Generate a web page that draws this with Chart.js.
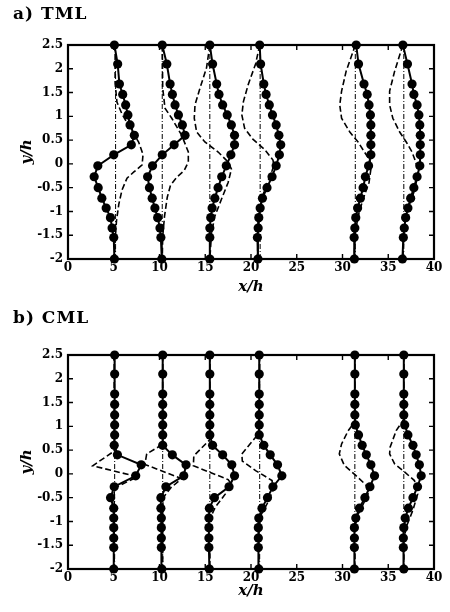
<!DOCTYPE html>
<html>
<head>
<meta charset="utf-8">
<script src="https://cdn.jsdelivr.net/npm/chart.js@4.4.1/dist/chart.umd.min.js"></script>
<style>
    html, body { margin: 0; padding: 0; background: #fff; }
    body { width: 450px; height: 612px; position: relative; overflow: hidden; }
    canvas { position: absolute; left: 0; }
    .panel-title {
        position: absolute; left: 13px; z-index: 2;
        font: bold 17px "DejaVu Serif", serif; letter-spacing: 1px; color: #000;
    }
</style>
</head>
<body>
<div class="panel-title" style="top:3px">a) TML</div>
<canvas id="chart-tml" width="450" height="300" style="top:0"></canvas>
<div class="panel-title" style="top:307px">b) CML</div>
<canvas id="chart-cml" width="450" height="302" style="top:310px"></canvas>
<script>
// axis ticks
const X_TICKS = [0, 5, 10, 15, 20, 25, 30, 35, 40];
const Y_TICKS = [-2, -1.5, -1, -0.5, 0, 0.5, 1, 1.5, 2, 2.5];

// y/h levels of the measured points (shared by every profile)
const Y_PTS = [2.5, 2.1, 1.68, 1.46, 1.24, 1.03, 0.82, 0.6, 0.4, 0.19, -0.04, -0.27, -0.5, -0.72, -0.93, -1.13, -1.35, -1.55, -2];

// a) TML : station x/h, measured x/h at Y_PTS, model curves as [x/h, y/h]
const TML_STATIONS = [5.2, 10.3, 15.5, 21.0, 31.4, 36.7];
const TML_MEAS_1 = [5.07, 5.43, 5.62, 5.98, 6.3, 6.55, 6.78, 7.25, 6.92, 5.0, 3.26, 2.86, 3.3, 3.7, 4.17, 4.64, 4.82, 5.0, 5.07];
const TML_MEAS_2 = [10.3, 10.8, 11.16, 11.41, 11.7, 12.07, 12.5, 12.79, 11.6, 10.3, 9.24, 8.7, 8.9, 9.2, 9.5, 9.8, 10.05, 10.15, 10.25];
const TML_MEAS_3 = [15.5, 15.8, 16.25, 16.5, 16.9, 17.4, 17.85, 18.2, 18.2, 17.8, 17.3, 16.8, 16.4, 16.05, 15.75, 15.6, 15.5, 15.5, 15.5];
const TML_MEAS_4 = [20.95, 21.05, 21.4, 21.65, 22.0, 22.35, 22.75, 23.05, 23.25, 23.1, 22.75, 22.3, 21.75, 21.25, 21.0, 20.85, 20.78, 20.7, 20.76];
const TML_MEAS_5 = [31.5, 31.75, 32.35, 32.7, 32.9, 33.05, 33.1, 33.1, 33.1, 33.1, 32.85, 32.5, 32.25, 31.95, 31.65, 31.45, 31.35, 31.27, 31.3];
const TML_MEAS_6 = [36.6, 37.1, 37.6, 37.8, 38.15, 38.35, 38.45, 38.5, 38.5, 38.5, 38.45, 38.15, 37.8, 37.45, 37.15, 36.9, 36.75, 36.65, 36.55];

const TML_MODEL_1 = [[5.15, 2.5], [5.15, 1.7], [5.35, 1.3], [5.9, 1.05], [6.7, 0.78], [7.72, 0.46], [8.2, 0.2], [8.1, -0.02], [7.2, -0.17], [6.45, -0.3], [5.9, -0.55], [5.55, -0.85], [5.3, -1.2], [5.15, -1.6], [5.1, -2]];
const TML_MODEL_2 = [[10.3, 2.5], [10.35, 1.6], [10.6, 1.17], [11.34, 0.96], [12.43, 0.6], [13.15, 0.25], [13.15, 0.04], [12.7, -0.14], [11.9, -0.28], [11.2, -0.45], [10.85, -0.7], [10.55, -1.1], [10.35, -1.53], [10.3, -2]];
const TML_MODEL_3 = [[15.5, 2.5], [15.14, 2.02], [14.42, 1.59], [13.88, 1.24], [13.8, 0.96], [14.06, 0.67], [14.96, 0.46], [16.41, 0.25], [17.5, 0.04], [17.86, -0.11], [17.5, -0.39], [16.78, -0.74], [16.05, -1.1], [15.69, -1.45], [15.5, -2]];
const TML_MODEL_4 = [[20.95, 2.5], [20.5, 2.1], [19.7, 1.67], [19.17, 1.31], [19.0, 1.03], [19.3, 0.75], [20.2, 0.52], [21.5, 0.3], [22.4, 0.08], [22.5, -0.02], [22.25, -0.18], [21.5, -0.53], [21.0, -0.89], [20.8, -1.38], [20.7, -2]];
const TML_MODEL_5 = [[31.4, 2.5], [30.4, 1.95], [29.9, 1.53], [29.7, 1.24], [29.9, 0.96], [30.8, 0.67], [31.7, 0.46], [32.4, 0.25], [33.0, 0.07], [33.1, -0.11], [32.9, -0.39], [32.25, -0.74], [31.7, -1.1], [31.35, -1.52], [31.3, -2]];
const TML_MODEL_6 = [[36.6, 2.5], [35.7, 1.95], [35.15, 1.53], [35.15, 1.24], [35.5, 0.96], [36.25, 0.67], [37.0, 0.45], [37.6, 0.25], [38.0, 0.04], [38.3, -0.18], [37.9, -0.53], [37.2, -0.96], [36.7, -1.45], [36.6, -2]];

// b) CML
const CML_STATIONS = [5.1, 10.35, 15.5, 20.95, 31.35, 36.7];
const CML_MEAS_1 = [5.1, 5.1, 5.1, 5.1, 5.1, 5.1, 5.1, 5.05, 5.4, 8.0, 7.4, 5.05, 4.65, 5.0, 5.0, 5.0, 5.0, 5.0, 5.0];
const CML_MEAS_2 = [10.35, 10.35, 10.35, 10.35, 10.35, 10.35, 10.35, 10.35, 11.4, 12.9, 12.65, 10.7, 10.15, 10.15, 10.2, 10.2, 10.2, 10.2, 10.25];
const CML_MEAS_3 = [15.5, 15.5, 15.5, 15.5, 15.5, 15.5, 15.5, 15.8, 16.9, 17.9, 18.2, 17.6, 16.0, 15.45, 15.4, 15.4, 15.4, 15.4, 15.45];
const CML_MEAS_4 = [20.9, 20.9, 20.9, 20.9, 20.9, 20.9, 20.9, 21.4, 22.1, 22.9, 23.37, 22.4, 21.8, 21.2, 20.85, 20.8, 20.8, 20.8, 20.85];
const CML_MEAS_5 = [31.35, 31.35, 31.35, 31.35, 31.35, 31.4, 31.75, 32.15, 32.6, 33.1, 33.5, 33.0, 32.45, 31.85, 31.45, 31.3, 31.3, 31.3, 31.3];
const CML_MEAS_6 = [36.7, 36.7, 36.7, 36.7, 36.7, 36.8, 37.15, 37.7, 38.05, 38.4, 38.6, 38.2, 37.7, 37.2, 36.85, 36.7, 36.65, 36.65, 36.7];

const CML_MODEL_1 = [[5.05, 2.5], [5.05, 0.48], [2.7, 0.17], [7.6, -0.06], [5.05, -0.3], [5.05, -2]];
const CML_MODEL_2 = [[10.35, 2.5], [10.35, 0.62], [8.6, 0.42], [8.4, 0.2], [12.4, -0.1], [11.2, -0.3], [10.4, -0.5], [10.35, -0.7], [10.35, -2]];
const CML_MODEL_3 = [[15.5, 2.5], [15.5, 0.72], [13.75, 0.38], [13.7, 0.17], [17.5, -0.12], [17.8, -0.2], [17.2, -0.42], [16.1, -0.7], [15.6, -0.91], [15.5, -1.2], [15.5, -2]];
const CML_MODEL_4 = [[20.95, 2.5], [20.85, 0.85], [19.0, 0.42], [19.05, 0.27], [20.5, 0.07], [22.3, -0.14], [22.4, -0.35], [21.75, -0.63], [21.05, -0.88], [20.85, -1.25], [20.85, -2]];
const CML_MODEL_5 = [[31.35, 2.5], [31.35, 1.1], [30.6, 0.9], [29.9, 0.63], [29.65, 0.42], [30.2, 0.18], [31.5, -0.04], [32.6, -0.24], [32.8, -0.42], [32.1, -0.7], [31.55, -0.91], [31.35, -1.25], [31.35, -2]];
const CML_MODEL_6 = [[36.7, 2.5], [36.7, 1.15], [35.87, 0.91], [35.2, 0.56], [35.15, 0.42], [35.7, 0.21], [36.78, 0.04], [37.86, -0.14], [38.22, -0.42], [37.68, -0.77], [36.96, -1.12], [36.7, -1.4], [36.7, -2]];

const SERIF = '"DejaVu Serif", "Liberation Serif", serif';
const TICK_FONT = { family: SERIF, size: 12, weight: 'bold' };
const AXIS_FONT = { family: SERIF, size: 15, weight: 'bold', style: 'italic' };

function refLine(x) {
    return {
        data: [{ x, y: Y_TICKS[0] }, { x, y: Y_TICKS[Y_TICKS.length - 1] }],
        borderColor: '#000', borderWidth: 1, borderDash: [5, 2, 1, 2],
        pointRadius: 0, showLine: true, clip: false
    };
}

function modelLine(pairs) {
    return {
        data: pairs.map(([x, y]) => ({ x, y })),
        borderColor: '#000', borderWidth: 1.6, borderDash: [6, 3],
        pointRadius: 0, showLine: true, clip: false
    };
}

function measLine(xs) {
    return {
        data: xs.map((x, i) => ({ x, y: Y_PTS[i] })),
        borderColor: '#000', borderWidth: 2,
        pointRadius: 4.6, pointBackgroundColor: '#000', pointBorderWidth: 0,
        showLine: true, clip: false
    };
}

// frame all round with inward tick marks
const framePlugin = {
    id: 'frame',
    beforeDatasetsDraw(chart) {
        const { ctx, chartArea: a, scales: { x, y } } = chart;
        const len = 5;
        ctx.save();
        ctx.strokeStyle = '#000';
        ctx.lineWidth = 1.4;
        ctx.beginPath();
        x.ticks.forEach(t => {
            const px = x.getPixelForValue(t.value);
            ctx.moveTo(px, a.top); ctx.lineTo(px, a.top + len);
            ctx.moveTo(px, a.bottom); ctx.lineTo(px, a.bottom - len);
        });
        y.ticks.forEach(t => {
            const py = y.getPixelForValue(t.value);
            ctx.moveTo(a.left, py); ctx.lineTo(a.left + len, py);
            ctx.moveTo(a.right, py); ctx.lineTo(a.right - len, py);
        });
        ctx.stroke();
        ctx.lineWidth = 2.2;
        ctx.strokeRect(a.left, a.top, a.right - a.left, a.bottom - a.top);
        ctx.restore();
    }
};

function makePanel(canvas, stations, models, meas, xAxisHeight, xTitlePad) {
    new Chart(canvas, {
        type: 'scatter',
        data: {
            datasets: [
                ...stations.map(refLine),
                ...models.map(modelLine),
                ...meas.map(measLine)
            ]
        },
        options: {
            responsive: false,
            animation: false,
            layout: { padding: { left: 0, right: 16, top: 45, bottom: 0 } },
            plugins: { legend: { display: false }, tooltip: { enabled: false } },
            scales: {
                x: {
                    type: 'linear', min: 0, max: 40,
                    afterBuildTicks: s => { s.ticks = X_TICKS.map(v => ({ value: v })); },
                    afterFit: s => { s.height = xAxisHeight; },
                    grid: { display: false, drawTicks: false },
                    border: { display: false },
                    ticks: { color: '#000', font: TICK_FONT, padding: 2, maxRotation: 0, autoSkip: false, callback: v => String(v) },
                    title: { display: true, text: 'x/h', color: '#000', font: AXIS_FONT, padding: { top: 0, bottom: xTitlePad } }
                },
                y: {
                    type: 'linear', min: -2, max: 2.5,
                    afterBuildTicks: s => { s.ticks = Y_TICKS.map(v => ({ value: v })); },
                    afterFit: s => { s.width = 68; },
                    grid: { display: false, drawTicks: false },
                    border: { display: false },
                    ticks: { color: '#000', font: TICK_FONT, padding: 5, autoSkip: false, callback: v => String(v) },
                    title: { display: true, text: 'y/h', color: '#000', font: AXIS_FONT, padding: { top: 18, bottom: 0 } }
                }
            }
        },
        plugins: [framePlugin]
    });
}

makePanel(document.getElementById('chart-tml'), TML_STATIONS,
    [TML_MODEL_1, TML_MODEL_2, TML_MODEL_3, TML_MODEL_4, TML_MODEL_5, TML_MODEL_6],
    [TML_MEAS_1, TML_MEAS_2, TML_MEAS_3, TML_MEAS_4, TML_MEAS_5, TML_MEAS_6], 41, 4);

makePanel(document.getElementById('chart-cml'), CML_STATIONS,
    [CML_MODEL_1, CML_MODEL_2, CML_MODEL_3, CML_MODEL_4, CML_MODEL_5, CML_MODEL_6],
    [CML_MEAS_1, CML_MEAS_2, CML_MEAS_3, CML_MEAS_4, CML_MEAS_5, CML_MEAS_6], 43, 12);
</script>
</body>
</html>
